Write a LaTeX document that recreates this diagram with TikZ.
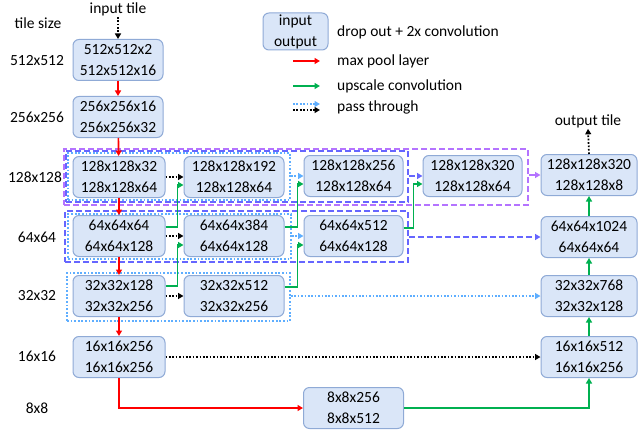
\documentclass[tikz,border=0pt]{standalone}
\usepackage{fontspec}
\setmainfont{Carlito}
\usetikzlibrary{arrows.meta}
\definecolor{boxfill}{HTML}{DAE6F8}
\definecolor{boxline}{HTML}{8FAAD6}
\definecolor{poolred}{HTML}{FF0000}
\definecolor{upgreen}{HTML}{00B050}
\definecolor{passblue}{HTML}{5EAEFF}
\definecolor{grpblue}{HTML}{6666FF}
\definecolor{grppurple}{HTML}{B473FF}

\begin{document}
\begin{tikzpicture}[x=1pt, y=-1pt,
  font=\fontsize{15.5}{21}\selectfont,
  layer/.style={draw=boxline, fill=boxfill, rounded corners=6pt, line width=1pt,
    minimum height=41pt, align=center, inner sep=0pt},
  lbl/.style={inner sep=1pt},
  grp/.style={inner sep=0pt, line width=1.8pt},
  grplight/.style={grp, draw=passblue, dash pattern=on 1.8pt off 1.8pt},
  grpmid/.style={grp, draw=grpblue, dash pattern=on 6pt off 3pt},
  grpouter/.style={grp, draw=grppurple, dash pattern=on 6pt off 3pt},
  tip/.style={-{Triangle[length=5.5pt,width=6pt]}},
  pool/.style={tip, draw=poolred, line width=1.7pt},
  up/.style={tip, draw=upgreen, line width=1.7pt},
  skipk/.style={tip, draw=black, line width=1.7pt, dash pattern=on 1.7pt off 1.7pt},
  skipl/.style={tip, draw=passblue, line width=1.7pt, dash pattern=on 1.7pt off 1.7pt},
  skipm/.style={tip, draw=grpblue, line width=1.7pt, dash pattern=on 6pt off 3pt},
  skipo/.style={tip, draw=grppurple, line width=1.7pt, dash pattern=on 6pt off 3pt},
]
\useasboundingbox (0,0) rectangle (639,433);

% tile size column
\node[lbl] (ts) at (38,23) {tile size};
\node[lbl] (r512) at (37,61) {512x512};
\node[lbl] (r256) at (37,117) {256x256};
\node[lbl] (r128) at (35,177) {128x128};
\node[lbl] (r64) at (37,237) {64x64};
\node[lbl] (r32) at (37,296) {32x32};
\node[lbl] (r16) at (37,356) {16x16};
\node[lbl] (r8) at (37,408) {8x8};

% grouping frames (outermost first)
\node[grpouter, minimum width=464pt, minimum height=56pt] (gOA) at (296,177) {};
\node[grpmid, minimum width=342pt, minimum height=51pt] (gMA) at (237,176.5) {};
\node[grplight, minimum width=222pt, minimum height=47pt] (gLA) at (179,176.5) {};
\node[grpmid, minimum width=343pt, minimum height=51pt] (gMB) at (236.5,236.5) {};
\node[grplight, minimum width=223pt, minimum height=45pt] (gLB) at (179.5,236.5) {};
\node[grplight, minimum width=223pt, minimum height=48pt] (gLC) at (178.5,297) {};

% layers
\node[layer, minimum width=90pt] (n512) at (118,60) {512x512x2\\512x512x16};
\node[layer, minimum width=90pt] (n256) at (118,117) {256x256x16\\256x256x32};
\node[layer, minimum width=92pt] (A1) at (119,177) {128x128x32\\128x128x64};
\node[layer, minimum width=100pt] (A2) at (234,177) {128x128x192\\128x128x64};
\node[layer, minimum width=99pt] (A3) at (353.5,176) {128x128x256\\128x128x64};
\node[layer, minimum width=99pt] (A4) at (472.5,176) {128x128x320\\128x128x64};
\node[layer, minimum width=96pt] (Aout) at (589,175) {128x128x320\\128x128x8};
\node[layer, minimum width=92pt] (B1) at (119,236) {64x64x64\\64x64x128};
\node[layer, minimum width=100pt] (B2) at (234,236) {64x64x384\\64x64x128};
\node[layer, minimum width=99pt] (B3) at (353.5,236) {64x64x512\\64x64x128};
\node[layer, minimum width=96pt] (Bout) at (589,237) {64x64x1024\\64x64x64};
\node[layer, minimum width=92pt] (C1) at (119,296) {32x32x128\\32x32x256};
\node[layer, minimum width=100pt] (C2) at (234,296) {32x32x512\\32x32x256};
\node[layer, minimum width=96pt] (Cout) at (589,296) {32x32x768\\32x32x128};
\node[layer, minimum width=92pt] (D1) at (119,357) {16x16x256\\16x16x256};
\node[layer, minimum width=96pt] (Dout) at (589,357) {16x16x512\\16x16x256};
\node[layer, minimum width=100pt] (E) at (353.5,408) {8x8x256\\8x8x512};

% input / output
\node[lbl] (inp) at (118,9) {input tile};
\node[lbl] (outp) at (588,121) {output tile};
\draw[skipk] (inp.south) -- (n512.north);
\draw[skipk] (Aout.north) -- (outp.south);

% max pooling path
\draw[pool] (n512) -- (n256);
\draw[pool] (n256) -- (A1);
\draw[pool] (A1) -- (B1);
\draw[pool] (B1) -- (C1);
\draw[pool] (C1) -- (D1);
\draw[pool] (D1.south) |- (E.west);

% upscale convolutions
\draw[up] ([yshift=9pt]B1.east) -- ++(12,0) |- ([yshift=-8pt]A2.west);
\draw[up] ([yshift=10pt]C1.east) -- ++(12,0) |- ([yshift=-9pt]B2.west);
\draw[up] ([yshift=9pt]B2.east) -- ++(13,0) |- ([yshift=-8pt]A3.west);
\draw[up] ([yshift=9pt]C2.east) -- ++(13,0) |- ([yshift=-9pt]B3.west);
\draw[up] ([yshift=8pt]B3.east) -- ++(10,0) |- ([yshift=-8pt]A4.west);
\draw[up] (E.east) -| (Dout.south);
\draw[up] (Dout) -- (Cout);
\draw[up] (Cout) -- (Bout);
\draw[up] (Bout) -- (Aout);

% pass through connections
\draw[skipk] (A1) -- (A2);
\draw[skipk] (B1) -- (B2);
\draw[skipk] (C1) -- (C2);
\draw[skipk] (D1) -- (Dout);
\draw[skipl] (gLA.east |- A3.west) -- (A3.west);
\draw[skipl] (gLB.east |- B3.west) -- (B3.west);
\draw[skipl] (gLC.east |- Cout.west) -- (Cout.west);
\draw[skipm] (gMA.east |- A4.west) -- (A4.west);
\draw[skipm] (gMB.east |- Bout.west) -- (Bout.west);
\draw[skipo] (gOA.east |- Aout.west) -- (Aout.west);

% legend
\node[layer, minimum width=65pt, minimum height=37pt] (key) at (295.5,31.5) {input\\output};
\node[lbl, anchor=west] (keyt) at (336,32) {drop out + 2x convolution};
\coordinate (kr1) at (293,61); \coordinate (kr2) at (320,61);
\coordinate (kg1) at (293,86); \coordinate (kg2) at (320,86);
\coordinate (kb1) at (293,104); \coordinate (kb2) at (320,104);
\coordinate (kk1) at (293,110); \coordinate (kk2) at (320,110);
\draw[pool] (kr1) -- (kr2);
\draw[up] (kg1) -- (kg2);
\draw[skipl] (kb1) -- (kb2);
\draw[skipk] (kk1) -- (kk2);
\node[lbl, anchor=west] (krt) at (336,61) {max pool layer};
\node[lbl, anchor=west] (kgt) at (336,86) {upscale convolution};
\node[lbl, anchor=west] (kpt) at (336,107) {pass through};
\end{tikzpicture}
\end{document}
